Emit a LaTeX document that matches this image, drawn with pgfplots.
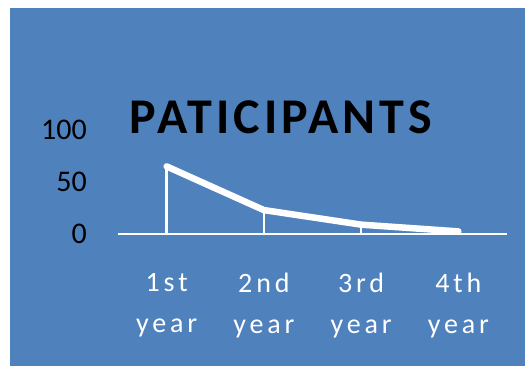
\documentclass[border=0pt]{standalone}
\usepackage{fontspec}
\setmainfont{Carlito}
\newfontfamily\spacedfont[LetterSpace=14]{Carlito}
\newfontfamily\titlefont[LetterSpace=8]{Carlito}
\usepackage{pgfplots}
\pgfplotsset{compat=1.18}
\definecolor{bgblue}{HTML}{4F81BD}
\begin{document}
\begin{tikzpicture}[x=1pt,y=1pt]
\path[use as bounding box] (0,0) rectangle (526,-366);
\fill[bgblue] (10,-8) rectangle (525,-366);
\begin{axis}[
  at={(118pt,-234pt)}, anchor=south west,
  scale only axis,
  width=389pt, height=104pt,
  xmin=-0.5, xmax=3.5, ymin=0, ymax=100,
  axis x line=bottom,
  axis y line=left,
  x axis line style={draw=white, line width=2pt, -},
  y axis line style={draw=none},
  major tick length=0pt,
  xtick={0,1,2,3},
  xticklabels={1st\\year, 2nd\\year, 3rd\\year, 4th\\year},
  ytick={0,50,100},
  x tick label style={text=white, font=\spacedfont\fontsize{28}{41}\selectfont, align=center, anchor=north, inner sep=0pt, yshift=-39pt},
  y tick label style={text=black, font=\fontsize{30}{36}\selectfont, anchor=east, inner sep=0pt, xshift=-31pt},
  /pgf/number format/assume math mode=true,
  title={\textbf{PATICIPANTS}},
  title style={at={(axis description cs:0.424,0.904)}, anchor=base, font=\titlefont\bfseries\fontsize{50}{60}\selectfont, text=black, inner sep=0pt},
  clip=false,
]
\addplot[ycomb, draw=white, line width=2.6pt, mark=none] coordinates {(0,65) (1,23) (2,9) (3,2.5)};
\addplot[draw=white, line width=6.5pt, line cap=round, line join=round, mark=none] coordinates {(0,65) (1,23) (2,9) (3,2.5)};
\end{axis}
\end{tikzpicture}
\end{document}
